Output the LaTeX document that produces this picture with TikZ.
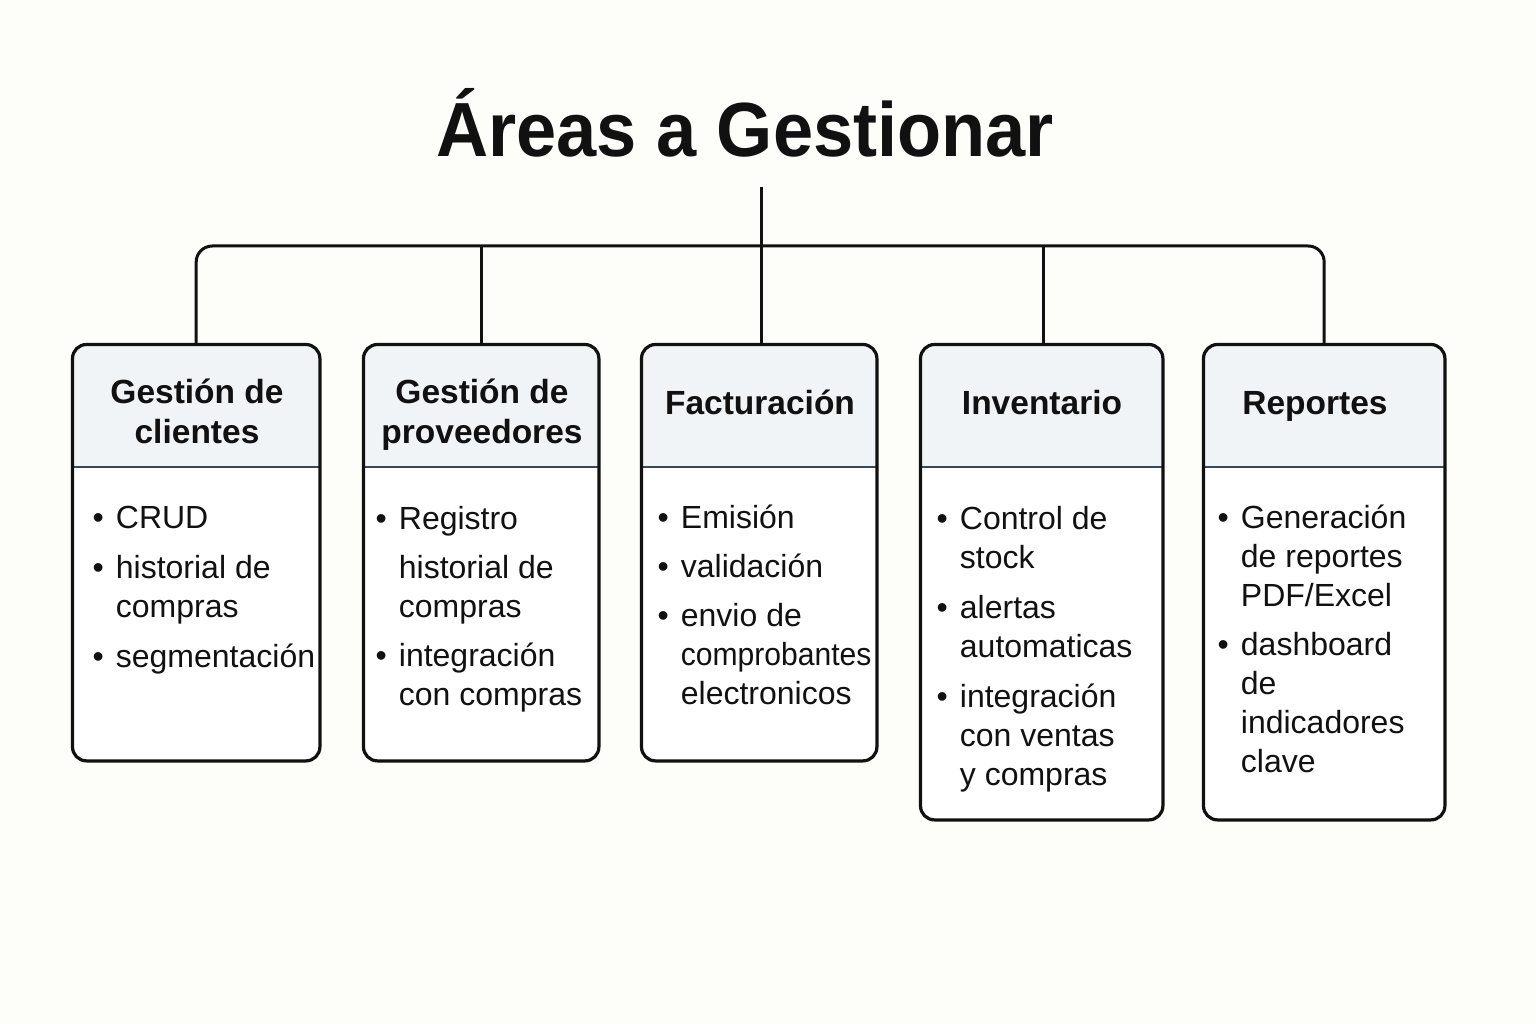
\documentclass[tikz,border=0pt]{standalone}
\usepackage{fontspec}
\setmainfont{Liberation Sans}
\usepackage{graphicx}
\definecolor{bgc}{RGB}{253,253,250}
\definecolor{ink}{RGB}{17,17,17}
\definecolor{headc}{RGB}{241,244,247}
\definecolor{divc}{RGB}{60,72,88}
\newcommand{\titlefont}{\fontsize{76.8}{90}\selectfont\bfseries}
\newcommand{\headfont}{\fontsize{33.5}{39.5}\selectfont\bfseries}
\newcommand{\bodyfont}{\fontsize{32}{39}\selectfont}
\tikzset{
  conn/.style={draw=ink, line width=3pt},
  boxfill/.style={fill=white, rounded corners=14pt, inner sep=0pt, anchor=north west},
  headfill/.style={fill=headc},
  divider/.style={draw=divc, line width=1.6pt},
  border/.style={draw=ink, line width=3.2pt, rounded corners=14pt},
  headtext/.style={font=\headfont, align=center, anchor=base, text=ink, inner sep=0pt},
  bodytext/.style={font=\bodyfont, anchor=base west, inner sep=0pt, text=ink},
  titletext/.style={font=\titlefont, anchor=base, text=ink, inner sep=0pt},
}
\newcommand{\areabox}[5]{%
  \node[boxfill, minimum width=#4pt, minimum height=#5pt] (#1) at (#2,#3) {};
  \begin{scope}
    \clip[rounded corners=14pt] (#1.south west) rectangle (#1.north east);
    \fill[headfill] (#1.north west) rectangle (#1.east |- hd);
  \end{scope}
  \draw[divider] (#1.west |- hd) -- (#1.east |- hd);
  \draw[border] (#1.south west) rectangle (#1.north east);
}
\newcommand{\blt}{\textbullet}
\begin{document}
\begin{tikzpicture}[x=1pt,y=-1pt]
\useasboundingbox (0,0) rectangle (1536,1024);
\fill[bgc] (0,0) rectangle (1536,1024);

\node[titletext] (title) at (745,157) {\scalebox{0.94}[1]{Áreas a Gestionar}};

\coordinate (hd) at (0,467);
\coordinate (busy) at (0,246);
\coordinate (trunktop) at (761,187);

\areabox{b1}{72.5}{344.5}{247}{416}
\areabox{b2}{363.5}{344.5}{235}{416}
\areabox{b3}{641.5}{344.5}{235}{416}
\areabox{b4}{920.5}{344.5}{242}{475}
\areabox{b5}{1203.5}{344.5}{241}{475}

% connectors
\draw[conn] (trunktop) -- (trunktop |- b3.north);
\draw[conn, rounded corners=16pt] (b1.north) |- (trunktop |- busy) -| (b5.north);
\draw[conn] (b2.north) -- (b2.north |- busy);
\draw[conn] ([xshift=2pt]b4.north) -- ([xshift=2pt]b4.north |- busy);

% headings
\node[headtext] (h1) at (197,443) {Gestión de\\clientes};
\node[headtext] (h2) at (482,443) {Gestión de\\proveedores};
\node[headtext] (h3) at (760,414) {Facturación};
\node[headtext] (h4) at (1042,414) {Inventario};
\node[headtext] (h5) at (1315,414) {Reportes};

% bodies
\node[bodytext] (t1) at (92.5,528) {\begin{tabular}[t]{@{}l@{\hspace{12pt}}l@{}}
\blt & CRUD\\[11pt]
\blt & historial de\\
     & compras\\[11pt]
\blt & segmentación
\end{tabular}};

\node[bodytext] (t2) at (375.5,529) {\begin{tabular}[t]{@{}l@{\hspace{12pt}}l@{}}
\blt & Registro\\[10pt]
     & historial de\\
     & compras\\[10pt]
\blt & integración\\
     & con compras
\end{tabular}};

\node[bodytext] (t3) at (657.5,528) {\begin{tabular}[t]{@{}l@{\hspace{12pt}}l@{}}
\blt & Emisión\\[10pt]
\blt & validación\\[10pt]
\blt & envio de\\
     & \scalebox{0.94}[1]{comprobantes}\\
     & electronicos
\end{tabular}};

\node[bodytext] (t4) at (936.5,529) {\begin{tabular}[t]{@{}l@{\hspace{12pt}}l@{}}
\blt & Control de\\
     & stock\\[11pt]
\blt & alertas\\
     & automaticas\\[11pt]
\blt & integración\\
     & con ventas\\
     & y compras
\end{tabular}};

\node[bodytext] (t5) at (1217.5,528) {\begin{tabular}[t]{@{}l@{\hspace{12pt}}l@{}}
\blt & Generación\\
     & de reportes\\
     & PDF/Excel\\[10pt]
\blt & dashboard\\
     & de\\
     & indicadores\\
     & clave
\end{tabular}};
\end{tikzpicture}
\end{document}
